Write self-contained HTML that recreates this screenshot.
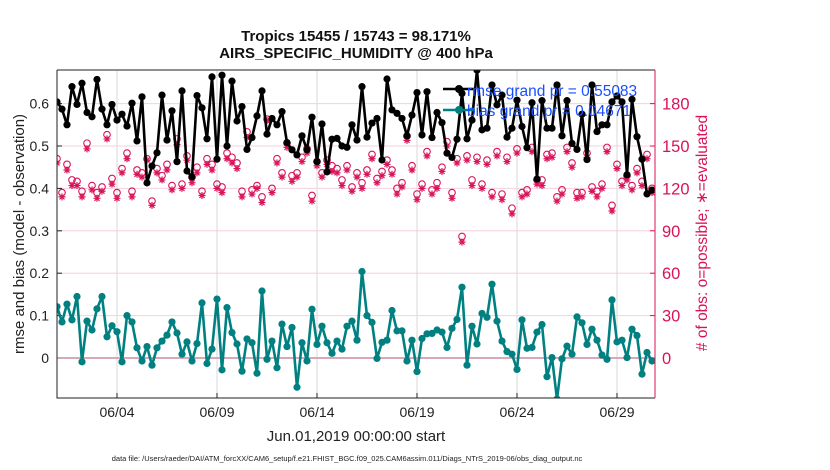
<!DOCTYPE html>
<html><head><meta charset="utf-8"><style>
body{margin:0;background:#fff;}
svg{display:block;font-family:"Liberation Sans",sans-serif;}
</style></head><body>
<svg id="chart" width="830" height="470" xmlns="http://www.w3.org/2000/svg"></svg>
<script>
const dayLabels=["06/04","06/09","06/14","06/19","06/24","06/29"];
const dayTicks=[3,8,13,18,23,28];
const leftTicks=[0,0.1,0.2,0.3,0.4,0.5,0.6];
const leftTickLabels=["0","0.1","0.2","0.3","0.4","0.5","0.6"];
const rightTicks=[0,30,60,90,120,150,180];
const rmse=[0.604,0.587,0.550,0.640,0.598,0.648,0.579,0.569,0.657,0.587,0.550,0.598,0.561,0.575,0.547,0.601,0.512,0.616,0.413,0.453,0.484,0.620,0.514,0.583,0.463,0.630,0.441,0.427,0.619,0.590,
0.517,0.663,0.469,0.667,0.500,0.653,0.559,0.593,0.492,0.520,0.571,0.630,0.528,0.565,0.550,0.581,0.508,0.491,0.479,0.524,0.491,0.568,0.463,0.552,0.439,0.516,0.518,0.500,0.497,0.550,
0.514,0.640,0.521,0.554,0.565,0.467,0.658,0.585,0.577,0.565,0.524,0.573,0.626,0.526,0.628,0.520,0.579,0.555,0.483,0.473,0.516,0.624,0.517,0.561,0.679,0.538,0.542,0.644,0.597,0.620,
0.521,0.542,0.608,0.546,0.496,0.602,0.422,0.607,0.542,0.542,0.644,0.524,0.607,0.506,0.492,0.575,0.468,0.644,0.534,0.550,0.550,0.604,0.618,0.604,0.432,0.610,0.522,0.469,0.387,0.396];
const bias=[0.121,0.085,0.127,0.090,0.145,-0.009,0.087,0.066,0.116,0.145,0.050,0.076,0.062,-0.009,0.100,0.085,0.024,-0.007,0.027,-0.017,0.024,0.040,0.054,0.085,0.059,0.009,0.038,-0.007,0.034,0.130,
-0.013,0.021,0.139,-0.028,0.119,0.060,0.033,-0.031,0.045,0.036,-0.036,0.158,-0.003,0.040,-0.023,0.080,0.027,0.072,-0.069,0.036,-0.007,0.115,0.032,0.075,0.036,0.011,0.040,0.021,0.075,0.087,
0.042,0.204,0.100,0.084,-0.001,0.037,0.042,0.112,0.064,0.064,-0.007,0.042,-0.032,0.046,0.057,0.058,0.066,0.061,0.025,0.070,0.091,0.167,-0.017,0.075,0.033,0.105,0.096,0.174,0.087,0.040,
0.015,0.009,-0.027,0.090,0.023,0.025,0.061,0.079,-0.044,0.001,-0.097,-0.002,0.028,0.009,0.097,0.083,0.032,0.068,0.042,0.007,-0.003,0.137,0.038,0.042,0.001,0.068,0.053,-0.038,0.013,-0.007];
const possible=[141,117,137,126,125,118,152,122,117,121,158,127,117,134,145,118,133,131,141,111,134,129,137,122,155,123,143,128,135,118,
141,137,123,121,145,142,138,118,160,119,122,114,169,120,141,131,152,129,131,142,148,115,139,131,140,136,134,126,136,121,
131,124,133,144,127,132,140,133,120,124,157,136,116,123,146,119,124,135,153,117,141,86,143,126,142,123,140,117,146,116,
142,106,148,117,119,149,126,126,144,145,114,119,149,138,117,117,145,121,118,123,149,108,137,125,129,122,134,125,144,120];
const evaluated=[138,114,133,122,122,114,148,119,113,118,155,123,113,131,141,114,130,128,140,108,131,126,133,119,151,120,140,124,131,115,
137,133,120,117,141,138,134,114,156,116,120,110,168,117,138,128,149,125,128,139,145,111,136,128,137,132,131,122,133,118,
128,120,130,141,124,129,137,130,116,121,154,133,112,120,143,116,120,132,150,113,138,82,140,122,139,120,137,114,143,112,
139,102,145,114,116,146,123,122,141,142,111,116,146,135,113,114,142,118,114,120,146,104,134,122,126,119,131,122,141,117];

const svg=document.getElementById('chart');
const NS='http://www.w3.org/2000/svg';
const L=57,R=655,T=70,B=398;
const y0=358,pxPerUnit=424;
function xs(i){return L+i*5;}
function xd(d){return L+d*20;}
function yl(v){return y0-v*pxPerUnit;}
function yr(c){return y0-c/300*pxPerUnit;}
function mk(tag,attrs,parent){const e=document.createElementNS(NS,tag);for(const k in attrs)e.setAttribute(k,attrs[k]);(parent||svg).appendChild(e);return e;}

const clip=mk('clipPath',{id:'pc'});mk('rect',{x:L,y:T,width:R-L,height:B-T},clip);

dayTicks.forEach((d,k)=>{
  const g=mk('line',{x1:xd(d),x2:xd(d),y1:T,y2:B,stroke:'#d8d8d8','stroke-width':1});
  
  
  const t=mk('line',{x1:xd(d),x2:xd(d),y1:B,y2:B-5,stroke:'#222'});
  
  
  const lb=mk('text',{x:xd(d),y:B+19,'font-size':14,'text-anchor':'middle',fill:'#222'});
  lb.textContent=dayLabels[k];
  
  
});
leftTicks.forEach((v,k)=>{
  if(v!==0){const g=mk('line',{x1:L,x2:R,y1:yl(v),y2:yl(v),stroke:'#f5d0dc','stroke-width':1});
  
  }
  const t=mk('line',{x1:L,x2:L+5,y1:yl(v),y2:yl(v),stroke:'#222'});
  
  
  const lb=mk('text',{x:L-8,y:yl(v)+5,'font-size':14,'text-anchor':'end',fill:'#222'});
  lb.textContent=leftTickLabels[k];
  
  
});
rightTicks.forEach(c=>{
  const t=mk('line',{x1:R-5,x2:R,y1:yr(c),y2:yr(c),stroke:'#d9135a'});
  
  
  const lb=mk('text',{x:R+7,y:yr(c)+6,'font-size':16.5,fill:'#d9135a'});
  lb.textContent=String(c);
  
  
});
const zl=mk('line',{x1:L,x2:R,y1:yl(0),y2:yl(0),stroke:'#d8a8b8','stroke-width':2});



const plot=mk('g',{'clip-path':'url(#pc)'});
possible.forEach((c,i)=>{
  const o=mk('circle',{cx:xs(i),cy:yr(c),r:3.3,fill:'none',stroke:'#d9135a','stroke-width':1.1},plot);
  
  
});
evaluated.forEach((c,i)=>{
  const x=xs(i),y=yr(c);
  const s=mk('path',{d:`M${x-3.5},${y}H${x+3.5}M${x},${y-3.5}V${y+3.5}M${x-2.5},${y-2.5}L${x+2.5},${y+2.5}M${x-2.5},${y+2.5}L${x+2.5},${y-2.5}`,stroke:'#d9135a','stroke-width':1.2,fill:'none'},plot);
  
  
});
function series(vals,color,name){
  const pts=vals.map((v,i)=>xs(i)+','+yl(v)).join(' ');
  const pl=mk('polyline',{points:pts,fill:'none',stroke:color,'stroke-width':2.6,'stroke-linejoin':'round'},plot);
  
  
  vals.forEach((v,i)=>{
    const c=mk('circle',{cx:xs(i),cy:yl(v),r:3.6,fill:color},plot);
    
    
  });
}
series(rmse,'#000','rmse');
series(bias,'#008080','bias');

const ax=mk('path',{d:`M${L},${T}V${B}H${R}`,stroke:'#222',fill:'none','stroke-width':1});


const tp=mk('line',{x1:L,x2:R,y1:T,y2:T,stroke:'#222'});


const ra=mk('line',{x1:R,x2:R,y1:T,y2:B,stroke:'#d9135a'});



const lg=mk('g',{});


mk('line',{x1:443,x2:475,y1:89,y2:89,stroke:'#000','stroke-width':2.6},lg);
mk('circle',{cx:459,cy:89,r:4,fill:'#000'},lg);
mk('line',{x1:443,x2:475,y1:110,y2:110,stroke:'#008080','stroke-width':2.6},lg);
mk('circle',{cx:459,cy:110,r:4,fill:'#008080'},lg);
const l1=mk('text',{x:467,y:96,'font-size':15.5,fill:'#1a4fff'},lg);l1.textContent='rmse grand pr = 0.55083';


const l2=mk('text',{x:467,y:116,'font-size':15.5,fill:'#1a4fff'},lg);l2.textContent='bias grand pr = 0.04671';



function txt(s,attrs,name){const t=mk('text',attrs);t.textContent=s;return t;}
txt('Tropics 15455 / 15743 = 98.171%',{x:356,y:41,'font-size':15,'font-weight':'bold','text-anchor':'middle',fill:'#111'},'chart-title');
txt('AIRS_SPECIFIC_HUMIDITY @ 400 hPa',{x:356,y:58,'font-size':15,'font-weight':'bold','text-anchor':'middle',fill:'#111'},'chart-subtitle');
txt('rmse and bias (model - observation)',{x:0,y:0,'font-size':15,'text-anchor':'middle',fill:'#222',transform:'translate(24,234) rotate(-90)'},'y-axis-title');
txt('# of obs: o=possible; \u2217=evaluated',{x:0,y:0,'font-size':15.5,'text-anchor':'middle',fill:'#d9135a',transform:'translate(707,233) rotate(-90)'},'right-y-axis-title');
txt('Jun.01,2019 00:00:00 start',{x:356,y:441,'font-size':15,'text-anchor':'middle',fill:'#222'},'x-axis-title');
txt('data file: /Users/raeder/DAI/ATM_forcXX/CAM6_setup/f.e21.FHIST_BGC.f09_025.CAM6assim.011/Diags_NTrS_2019-06/obs_diag_output.nc',{x:347,y:461,'font-size':7.5,'text-anchor':'middle',fill:'#222'},'data-file-note');
</script>
</body></html>
